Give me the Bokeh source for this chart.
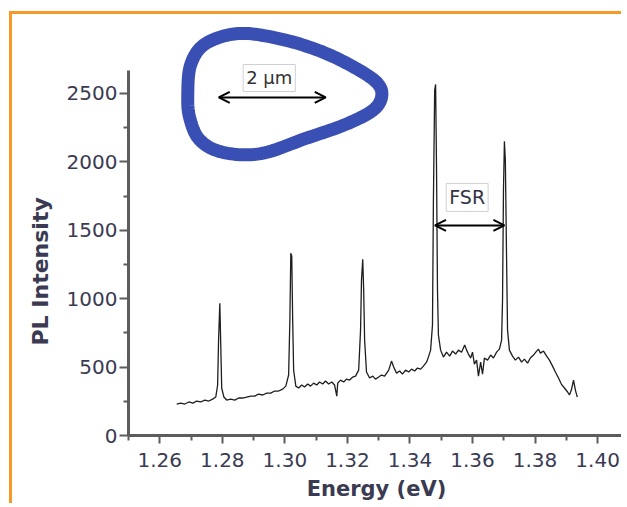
import numpy as np
from bokeh.plotting import figure
from bokeh.models import (Range1d, FixedTicker, Arrow, OpenHead, Label, Title)
from bokeh.embed import file_html
from bokeh.resources import INLINE

# ---- spectrum ----
energy = [
    1.2654, 1.2667, 1.2680, 1.2693, 1.2706, 1.2718, 1.2731, 1.2744, 1.2757, 1.2769, 1.2779,
    1.2785, 1.2788, 1.2792, 1.2795, 1.2798, 1.2805,
    1.2814, 1.2827, 1.2840, 1.2852, 1.2865, 1.2878, 1.2891, 1.2904, 1.2916, 1.2929, 1.2942,
    1.2955, 1.2967, 1.2980, 1.2993, 1.3003,
    1.3012, 1.3016, 1.3019, 1.3022, 1.3025, 1.3028, 1.3035,
    1.3044, 1.3054, 1.3063, 1.3073, 1.3082, 1.3092, 1.3102, 1.3111, 1.3121, 1.3130, 1.3140,
    1.3150, 1.3159, 1.3166, 1.3169, 1.3178, 1.3188, 1.3197, 1.3207, 1.3217, 1.3226, 1.3236,
    1.3242, 1.3245, 1.3249, 1.3252, 1.3255, 1.3261,
    1.3271, 1.3281, 1.3290, 1.3300, 1.3309, 1.3319, 1.3332, 1.3341, 1.3348, 1.3357, 1.3367,
    1.3376, 1.3386, 1.3396, 1.3405, 1.3415, 1.3424, 1.3434, 1.3443, 1.3453, 1.3459, 1.3466,
    1.3472, 1.3475, 1.3479, 1.3482, 1.3485, 1.3488, 1.3491, 1.3498,
    1.3507, 1.3517, 1.3527, 1.3536, 1.3546, 1.3555, 1.3565, 1.3575, 1.3581, 1.3587, 1.3594,
    1.3600, 1.3606, 1.3613, 1.3619, 1.3626, 1.3632, 1.3638, 1.3648, 1.3658, 1.3667, 1.3677,
    1.3686, 1.3693,
    1.3696, 1.3699, 1.3702, 1.3705, 1.3709, 1.3712, 1.3718,
    1.3728, 1.3737, 1.3747, 1.3757, 1.3766, 1.3776, 1.3785, 1.3795, 1.3805, 1.3811, 1.3817,
    1.3827, 1.3837, 1.3846, 1.3856, 1.3865, 1.3875, 1.3884, 1.3894, 1.3904, 1.3910, 1.3916,
    1.3923, 1.3929, 1.3935,
]
intensity = [
    230, 237, 230, 245, 237, 252, 245, 259, 252, 266, 281,
    369, 697, 967, 661, 347, 281,
    259, 266, 259, 274, 274, 281, 288, 288, 303, 296, 310,
    310, 325, 325, 339, 361,
    442, 843, 1332, 1310, 843, 478, 361,
    347, 369, 354, 376, 361, 383, 369, 391, 376, 398, 376,
    391, 369, 288, 383, 405, 391, 412, 405, 427, 434, 478,
    770, 1135, 1288, 1062, 697, 464,
    420, 434, 412, 427, 442, 434, 478, 544, 500, 456, 471,
    449, 478, 464, 485, 471, 493, 485, 507, 536, 573, 624,
    807, 1719, 2522, 2566, 1938, 1062, 734, 624,
    573, 609, 580, 617, 595, 624, 609, 661, 624, 595, 566,
    609, 522, 551, 434, 536, 449, 566, 551, 588, 566, 609,
    631, 697,
    989, 1792, 2150, 2011, 1281, 770, 624,
    580, 551, 573, 536, 558, 529, 566, 588, 617, 631, 602,
    617, 580, 551, 507, 464, 420, 376, 347, 318, 296, 332,
    405, 332, 281,
]

x_ticks = [1.26, 1.28, 1.30, 1.32, 1.34, 1.36, 1.38, 1.40]
x_tick_labels = ["1.26", "1.28", "1.30", "1.32", "1.34", "1.36", "1.38", "1.40"]
x_minor = [1.25, 1.27, 1.29, 1.31, 1.33, 1.35, 1.37, 1.39]
y_ticks = [0, 500, 1000, 1500, 2000, 2500]
y_tick_labels = ["0", "500", "1000", "1500", "2000", "2500"]
y_minor = [250, 750, 1250, 1750, 2250]

# FSR arrow between the two strongest modes
fsr_from, fsr_to, fsr_level = 1.3480, 1.3702, 1535

# inset: microdisk outline control points (energy, intensity coordinates)
ring_e = [1.26895, 1.26991, 1.27471, 1.28526, 1.29804, 1.31083, 1.32169, 1.32937,
          1.33096, 1.32809, 1.31946, 1.30667, 1.29229, 1.28014, 1.27279, 1.26959]
ring_i = [2485, 2712, 2865, 2938, 2901, 2814, 2697, 2580,
          2478, 2376, 2274, 2171, 2060, 2070, 2160, 2320]
scale_from, scale_to, scale_level = 1.27886, 1.31306, 2471

TXT = "#3a3a52"
AX = "#5c5c5c"
ORANGE = "#f79a25"

p = figure(width=612, height=492, output_backend="svg", toolbar_location=None,
           x_range=Range1d(1.25, 1.4086), y_range=Range1d(0, 3077),
           min_border_left=116, min_border_right=0, min_border_top=0,
           min_border_bottom=71)
p.styles = {"margin-left": "9px", "margin-top": "11px",
            "border-top": f"3px solid {ORANGE}", "border-left": f"3px solid {ORANGE}"}
p.outline_line_color = None
p.xgrid.visible = False
p.ygrid.visible = False
p.background_fill_color = "white"
p.border_fill_color = "white"

for ax in (p.xaxis[0], p.yaxis[0]):
    ax.axis_line_color = AX
    ax.axis_line_width = 3
    ax.major_tick_line_color = AX
    ax.major_tick_line_width = 2
    ax.minor_tick_line_color = AX
    ax.minor_tick_line_width = 2
    ax.major_tick_in = 0
    ax.minor_tick_in = 0
    ax.major_label_text_font = "DejaVu Sans"
    ax.major_label_text_font_size = "20px"
    ax.major_label_text_color = TXT
    ax.axis_label_text_font = "DejaVu Sans"
    ax.axis_label_text_font_size = "21px"
    ax.axis_label_text_font_style = "bold"
    ax.axis_label_text_color = TXT

xa = p.xaxis[0]
xa.ticker = FixedTicker(ticks=x_ticks, minor_ticks=x_minor)
xa.major_label_overrides = {t: l for t, l in zip(x_ticks, x_tick_labels)}
xa.major_tick_out = 8
xa.minor_tick_out = 5
xa.major_label_standoff = 9
xa.axis_label = "Energy (eV)"
xa.axis_label_standoff = 7

ya = p.yaxis[0]
ya.ticker = FixedTicker(ticks=y_ticks, minor_ticks=y_minor)
ya.major_label_overrides = {t: l for t, l in zip(y_ticks, y_tick_labels)}
ya.major_tick_out = 9
ya.minor_tick_out = 5
ya.major_label_standoff = 2
ya.bounds = (0, 2670)

# y axis title: a side title, placed beside the lower part of the axis as in the original
p.add_layout(Title(text="PL Intensity", align="left", vertical_align="top",
                   offset=90, standoff=18,
                   text_font="DejaVu Sans", text_font_size="22px", text_font_style="bold",
                   text_color=TXT), "left")

# spectrum
p.line(energy, intensity, line_color="#1e1e1e", line_width=1.3)

# inset ring (smooth closed curve through control points)
pts = np.column_stack([ring_e, ring_i]).astype(float)
n = len(pts)
sm = []
for k in range(n):
    p0, p1, p2, p3 = pts[(k - 1) % n], pts[k], pts[(k + 1) % n], pts[(k + 2) % n]
    for t in np.linspace(0, 1, 12, endpoint=False):
        t2, t3 = t * t, t * t * t
        sm.append(0.5 * ((2 * p1) + (-p0 + p2) * t + (2 * p0 - 5 * p1 + 4 * p2 - p3) * t2
                         + (-p0 + 3 * p1 - 3 * p2 + p3) * t3))
sm.append(sm[0])
sm = np.array(sm)
p.line(sm[:, 0], sm[:, 1], line_color="#3a4fb4", line_width=13, line_join="round")

# scale bar arrow and label
p.add_layout(Arrow(start=OpenHead(size=11, line_width=2, line_color="black"),
                   end=OpenHead(size=11, line_width=2, line_color="black"),
                   x_start=scale_from, y_start=scale_level, x_end=scale_to, y_end=scale_level,
                   line_width=2, line_color="black"))
p.add_layout(Label(x=1.2950, y=2613, text="2 µm", text_align="center", text_baseline="middle",
                   text_font="DejaVu Sans", text_font_size="18px", text_color="#333333",
                   background_fill_color="white", border_line_color="#d0d0d0",
                   border_line_width=1, padding=3))

# FSR arrow and label
p.add_layout(Arrow(start=OpenHead(size=11, line_width=2, line_color="black"),
                   end=OpenHead(size=11, line_width=2, line_color="black"),
                   x_start=fsr_from, y_start=fsr_level, x_end=fsr_to, y_end=fsr_level,
                   line_width=2, line_color="black"))
p.add_layout(Label(x=1.3583, y=1740, text="FSR", text_align="center", text_baseline="middle",
                   text_font="DejaVu Sans", text_font_size="19px", text_color="#333344",
                   background_fill_color="white", border_line_color="#d0d0d0",
                   border_line_width=1, padding=3))

open("out.html", "w").write(file_html(p, INLINE))
